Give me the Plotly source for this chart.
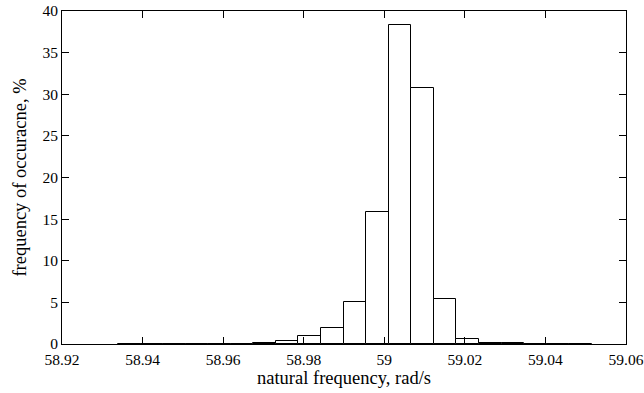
import plotly.graph_objects as go

# histogram bins (left edge, width) and frequencies in %
bin_start = 58.9339
bin_width = 0.0056
freq = [0.05, 0.0, 0.05, 0.0, 0.05, 0.0, 0.15, 0.4, 0.96, 1.96, 5.04,
        15.9, 38.3, 30.8, 5.44, 0.64, 0.1, 0.1, 0.0, 0.0, 0.05]
centers = [bin_start + (i + 0.5) * bin_width for i in range(len(freq))]

x_ticks = [58.92, 58.94, 58.96, 58.98, 59.0, 59.02, 59.04, 59.06]
x_ticktext = ["58.92", "58.94", "58.96", "58.98", "59", "59.02", "59.04", "59.06"]
y_ticks = [0, 5, 10, 15, 20, 25, 30, 35, 40]

fam = "Liberation Serif, Times New Roman, serif"
tick_font = dict(family=fam, size=15.5, color="black")
title_font = dict(family=fam, size=18.5, color="black")

fig = go.Figure(go.Bar(
    x=centers, y=freq, width=[bin_width] * len(freq),
    marker=dict(color="white", line=dict(color="black", width=1)),
))

axis_common = dict(showline=True, mirror="ticks", linecolor="black", linewidth=1,
                   ticks="inside", ticklen=7, tickcolor="black", tickwidth=1,
                   showgrid=False, zeroline=False, tickfont=tick_font,
                   ticklabeloverflow="allow", automargin=False)

fig.update_xaxes(range=[58.92, 59.06], tickvals=x_ticks, ticktext=x_ticktext,
                 ticklabelstandoff=1,
                 title=dict(text="natural frequency, rad/s", font=title_font, standoff=2),
                 **axis_common)
fig.update_yaxes(range=[0, 40], tickvals=y_ticks, ticklabelstandoff=0,
                 title=dict(text="frequency of occuracne, %", font=title_font, standoff=10),
                 **axis_common)

fig.update_layout(width=644, height=393, margin=dict(l=62, r=18, t=11, b=49),
                  plot_bgcolor="white", paper_bgcolor="white", showlegend=False,
                  font=tick_font, bargap=0)

fig.write_html("out.html", config={"displayModeBar": False},
               post_script="document.body.style.margin='0';")
